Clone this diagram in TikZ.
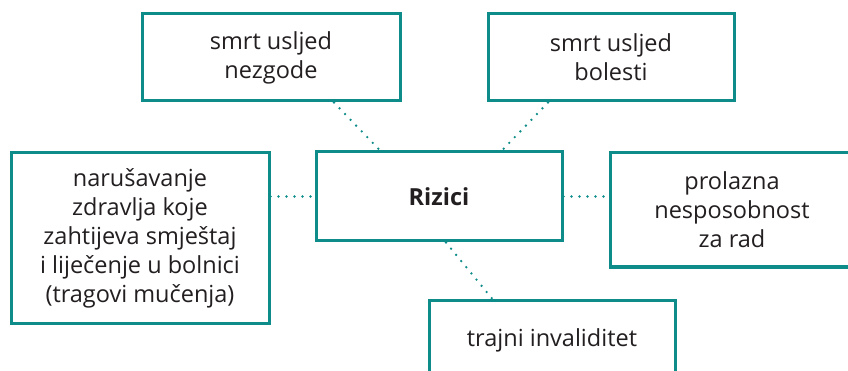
\documentclass[tikz,border=0pt]{standalone}
\usepackage{fontspec}
\setmainfont{Open Sans}
\usetikzlibrary{calc}
\definecolor{tealline}{HTML}{0E8C89}
\definecolor{inktext}{HTML}{231F20}
\tikzset{
  riskbox/.style={draw=tealline, line width=3pt, fill=white, rectangle,
    inner sep=0pt, align=center, text=inktext,
    font=\fontsize{23.5}{29}\selectfont},
  dotlink/.style={draw=tealline, line width=2.6pt, line cap=round,
    dash pattern=on 0pt off 8pt}
}
\begin{document}
\begin{tikzpicture}[x=1pt,y=-1pt]
\useasboundingbox (0,0) rectangle (848,371);
\clip (0,0) rectangle (848,371);
% boxes, placed by their centres (sizes in pt)
\node[riskbox, minimum width=258pt, minimum height=87pt] (nz) at (271,57.5) {smrt usljed\\nezgode};
\node[riskbox, minimum width=246pt, minimum height=87pt] (bo) at (611,57.5) {smrt usljed\\bolesti};
\node[riskbox, minimum width=246pt, minimum height=89pt, font=\fontsize{23.5}{29}\selectfont\bfseries] (rz) at (439,196.5) {Rizici};
\node[riskbox, minimum width=258pt, minimum height=170pt] (hs) at (140,238) {narušavanje\\zdravlja koje\\zahtijeva smještaj\\i liječenje u bolnici\\(tragovi mučenja)};
\node[riskbox, minimum width=244pt, minimum height=114pt] (pr) at (732,210) {prolazna\\nesposobnost\\za rad};
\node[riskbox, minimum width=246pt, minimum height=80pt] (ti) at (552,340) {trajni invaliditet};
% dotted connectors
\draw[dotlink] ([xshift=63pt]nz.south) -- ([xshift=-59pt]rz.north);
\draw[dotlink] ([xshift=-63pt]bo.south) -- ([xshift=63pt]rz.north);
\draw[dotlink] (hs.east |- rz.west) -- (rz.west);
\draw[dotlink] (rz.east) -- (pr.west |- rz.east);
\draw[dotlink] ([xshift=7pt]rz.south) -- ([xshift=-60pt]ti.north);
\end{tikzpicture}
\end{document}
